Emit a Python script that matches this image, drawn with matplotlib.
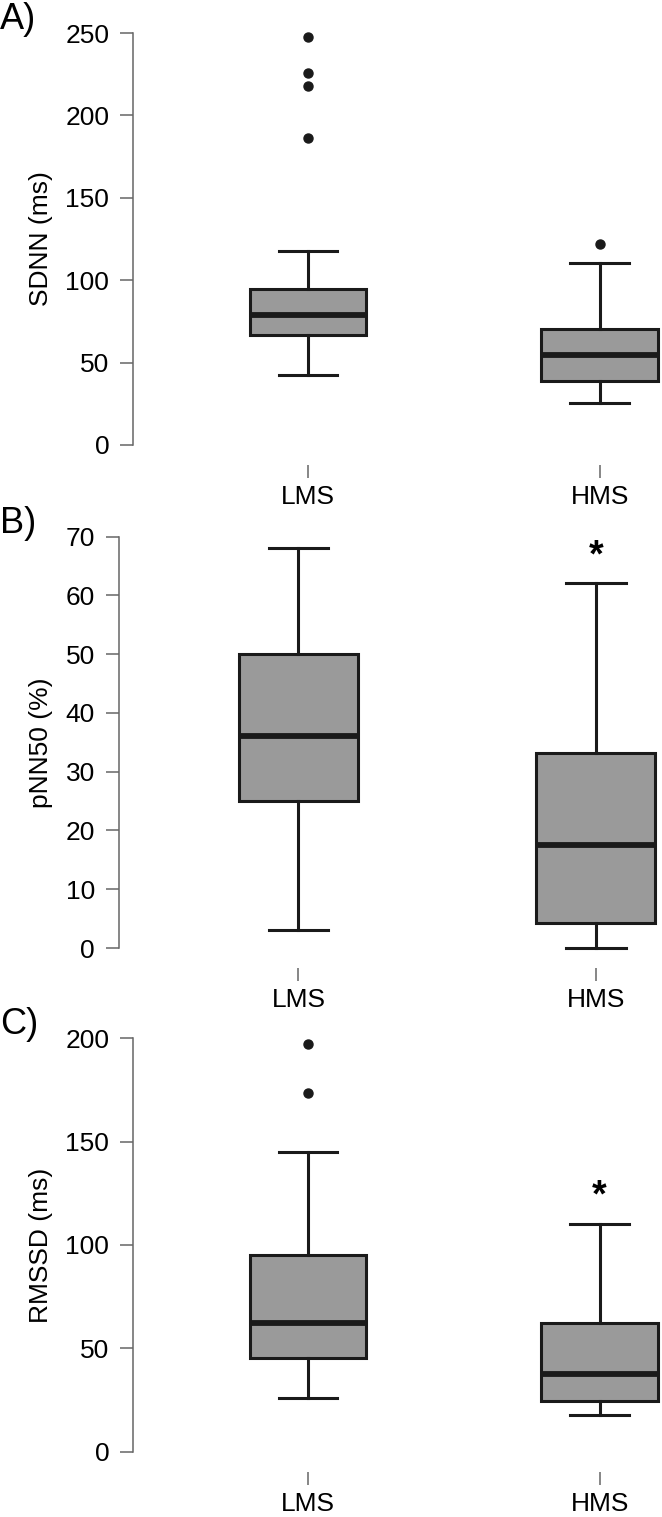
import matplotlib

matplotlib.use("Agg")
import matplotlib.pyplot as plt

plt.rcParams["font.family"] = ["Liberation Sans", "DejaVu Sans"]

groups = ["LMS", "HMS"]

# five-number summaries per group: whisker low, Q1, median, Q3, whisker high
sdnn_box = [[42.3, 66.7, 78.7, 94.9, 117.7], [25.3, 38.8, 54.4, 70.4, 110.2]]
sdnn_outliers = [[247.4, 225.5, 217.6, 186.5], [121.8]]
sdnn_ticks = [0, 50, 100, 150, 200, 250]

pnn50_box = [[3.0, 25.0, 36.1, 50.0, 68.0], [0.0, 4.2, 17.5, 33.2, 62.1]]
pnn50_outliers = [[], []]
pnn50_ticks = [0, 10, 20, 30, 40, 50, 60, 70]
pnn50_star = [None, 66.6]

rmssd_box = [[25.8, 45.5, 62.1, 95.2, 144.9], [17.7, 24.5, 37.6, 62.1, 110.0]]
rmssd_outliers = [[197.2, 173.4], []]
rmssd_ticks = [0, 50, 100, 150, 200]
rmssd_star = [None, 123.4]

W, H = 662, 1517
FS = 19
BOX_FILL = "#9a9a9a"
EDGE = "#1a1a1a"
AXIS_GRAY = "#666666"


def panel(fig, letter, rect_px, xlim, box, outliers, ticks, ylabel, label_x, star=None):
    left, top, right, bottom = rect_px
    ax = fig.add_axes([left / W, 1 - bottom / H, (right - left) / W, (bottom - top) / H])
    stats = []
    for name, (lo, q1, med, q3, hi), fl in zip(groups, box, outliers):
        stats.append(dict(label=name, whislo=lo, q1=q1, med=med, q3=q3, whishi=hi, fliers=fl))
    ax.bxp(
        stats,
        positions=[1, 2],
        widths=0.4,
        patch_artist=True,
        showcaps=True,
        boxprops=dict(facecolor=BOX_FILL, edgecolor=EDGE, linewidth=2.2),
        medianprops=dict(color=EDGE, linewidth=4.2, solid_capstyle="butt"),
        whiskerprops=dict(color=EDGE, linewidth=2.2),
        capprops=dict(color=EDGE, linewidth=2.2),
        capwidths=0.2,
        flierprops=dict(marker="o", markerfacecolor=EDGE, markeredgecolor=EDGE, markersize=6.5),
    )
    for art in ax.get_children():
        try:
            art.set_clip_on(False)
        except AttributeError:
            pass
    if star is not None:
        for pos, val in zip([1, 2], star):
            if val is not None:
                ax.text(pos, val, "*", ha="center", va="center", fontsize=27, fontweight="bold")

    ax.set_xlim(*xlim)
    ax.set_ylim(ticks[0], ticks[-1])
    ax.set_yticks(ticks)
    ax.set_xticks([1, 2])
    ax.set_xticklabels(groups)

    for s in ("top", "right"):
        ax.spines[s].set_visible(False)
    ax.spines["left"].set_color(AXIS_GRAY)
    ax.spines["left"].set_linewidth(1.1)
    # offset in points: ~20 px below the zero line
    ax.spines["bottom"].set_position(("outward", 14.5))
    ax.spines["bottom"].set_color("none")
    ax.tick_params(axis="y", length=9.4, width=1.1, color=AXIS_GRAY, pad=8, labelsize=FS)
    ax.tick_params(axis="x", length=9.4, width=1.1, color=AXIS_GRAY, pad=5, labelsize=FS)

    ax.set_ylabel(ylabel, fontsize=FS)
    ax.yaxis.set_label_coords((label_x - left) / (right - left), 0.5)
    fig.text(0, 1 - (top - 31) / H, letter, ha="left", va="top", fontsize=26)
    return ax


fig = plt.figure(figsize=(W / 100, H / 100), dpi=100)

panel(fig, "A)", (133.4, 33, 662, 445), (0.401, 2.214), sdnn_box, sdnn_outliers,
      sdnn_ticks, "SDNN (ms)", 53)
panel(fig, "B)", (119, 536.7, 662, 948), (0.3966, 2.222), pnn50_box, pnn50_outliers,
      pnn50_ticks, "pNN50 (%)", 53, star=pnn50_star)
panel(fig, "C)", (133.4, 1038.3, 662, 1451.7), (0.401, 2.214), rmssd_box, rmssd_outliers,
      rmssd_ticks, "RMSSD (ms)", 53, star=rmssd_star)

fig.savefig("out.png", dpi=100)
